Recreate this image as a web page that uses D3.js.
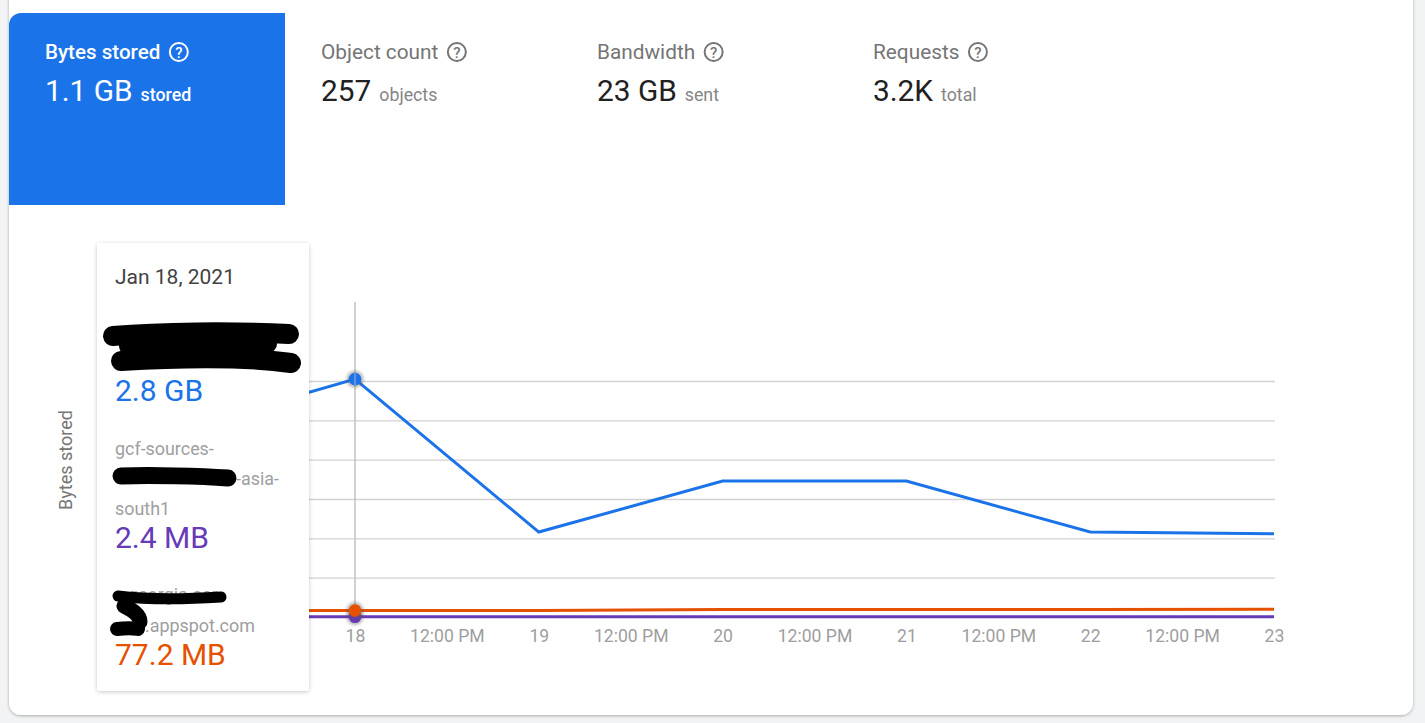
<!DOCTYPE html>
<html>
<head>
<meta charset="utf-8">
<script src="https://cdn.jsdelivr.net/npm/d3@7"></script>
<style>
  html, body { margin: 0; padding: 0; background: #f1f3f4; overflow: hidden; }
  svg { display: block; font-family: Roboto, sans-serif; }
</style>
</head>
<body>
<svg width="1425" height="723"></svg>
<script>
// values in GB
const days = ["2021-01-17", "2021-01-18", "2021-01-19", "2021-01-20", "2021-01-21", "2021-01-22", "2021-01-23"];
const blueValues = [2.18, 2.8, 1.0, 1.6, 1.6, 1.0, 0.98];
const orangeValues = [0.0765, 0.0772, 0.0772, 0.0875, 0.0875, 0.0875, 0.09];
const purpleValues = [0.0024, 0.0024, 0.0024, 0.0024, 0.0024, 0.0024, 0.0024];
const gridValues = [0, 0.463, 0.926, 1.389, 1.852, 2.315, 2.778];
const tickDates = ["2021-01-18T00:00Z", "2021-01-18T12:00Z", "2021-01-19T00:00Z", "2021-01-19T12:00Z", "2021-01-20T00:00Z", "2021-01-20T12:00Z", "2021-01-21T00:00Z", "2021-01-21T12:00Z", "2021-01-22T00:00Z", "2021-01-22T12:00Z", "2021-01-23T00:00Z"];
const tileTitles = ["Bytes stored", "Object count", "Bandwidth", "Requests"];
const tileValues = ["1.1 GB", "257", "23 GB", "3.2K"];
const tileUnits = ["stored", "objects", "sent", "total"];
const seriesColors = {blue: "#1a73e8", orange: "#e65100", purple: "#673ab7"};

let svg = d3.select("svg");

// card
let defs = svg.append("defs");
let shadow = defs.append("filter").attr("id", "cardShadow").attr("x", "-5%").attr("y", "-5%").attr("width", "110%").attr("height", "110%");
shadow.append("feDropShadow").attr("dx", 0).attr("dy", 1).attr("stdDeviation", 1.5).attr("flood-color", "#000").attr("flood-opacity", 0.3);
let tipShadow = defs.append("filter").attr("id", "tipShadow").attr("x", "-10%").attr("y", "-5%").attr("width", "120%").attr("height", "110%");
tipShadow.append("feDropShadow").attr("dx", 0).attr("dy", 1).attr("stdDeviation", 2).attr("flood-color", "#000").attr("flood-opacity", 0.22);
let halo = defs.append("filter").attr("id", "halo").attr("x", "-100%").attr("y", "-100%").attr("width", "300%").attr("height", "300%");
halo.append("feGaussianBlur").attr("stdDeviation", 1.8);

svg.append("rect").attr("x", 9).attr("y", -20).attr("width", 1404).attr("height", 735).attr("rx", 12)
  .attr("fill", "#fff").attr("filter", "url(#cardShadow)");

// metric tiles
svg.append("path").attr("d", "M9 205V25a12 12 0 0 1 12-12H285V205Z").attr("fill", "#1a73e8");

function drawTile(i) {
  let x = i === 0 ? 45 : 45 + i * 276;
  let active = i === 0;
  let g = svg.append("g").attr("transform", "translate(" + x + ",0)");
  let title = g.append("text").attr("y", 59).attr("font-size", active ? 20.6 : 20.8).attr("font-weight", active ? 500 : 400)
    .attr("fill", active ? "#fff" : "#757575").text(tileTitles[i]);
  let w = title.node().getComputedTextLength();
  g.append("circle").attr("cx", w + 18.5).attr("cy", 52).attr("r", 9).attr("fill", "none")
    .attr("stroke", active ? "#fff" : "#757575").attr("stroke-width", 2);
  g.append("text").attr("x", w + 18.5).attr("y", 57.5).attr("text-anchor", "middle").attr("font-size", 15).attr("font-weight", 500)
    .attr("fill", active ? "#fff" : "#757575").text("?");
  let val = g.append("text").attr("y", 101).attr("font-size", 29.8)
    .attr("fill", active ? "#fff" : "#212121").text(tileValues[i]);
  g.append("text").attr("x", val.node().getComputedTextLength() + 8).attr("y", 101).attr("font-size", 17.8)
    .attr("font-weight", active ? 500 : 400).attr("fill", active ? "#fff" : "#858585").text(tileUnits[i]);
}
tileTitles.forEach((d, i) => drawTile(i));

// chart
let parsed = days.map(d => new Date(d + "T00:00Z"));
let x = d3.scaleUtc().domain([parsed[1], parsed[6]]).range([355, 1274]);
let y = d3.scaleLinear().domain([0, 2.778]).range([617, 381]);

let grid = svg.append("g").attr("transform", "translate(171,0)")
  .call(d3.axisLeft(y).tickValues(gridValues.slice(1)).tickSize(-1104).tickFormat(""));
grid.select(".domain").remove();
grid.selectAll("line").attr("stroke", "#d2d2d2").attr("stroke-width", 1.4);

let xAxis = svg.append("g").attr("transform", "translate(0,617)")
  .call(d3.axisBottom(x).tickValues(tickDates.map(d => new Date(d))).tickSize(0).tickPadding(13)
    .tickFormat(d => d.getUTCHours() === 12 ? "12:00 PM" : d.getUTCDate()));
xAxis.select(".domain").remove();
xAxis.selectAll("text").attr("font-size", 17.6).attr("font-family", "Roboto, sans-serif").attr("fill", "#9e9e9e");

svg.append("text").attr("transform", "translate(72,460) rotate(-90)").attr("text-anchor", "middle")
  .attr("font-size", 18).attr("fill", "#757575").text("Bytes stored");

svg.append("line").attr("x1", x(parsed[1])).attr("x2", x(parsed[1])).attr("y1", 302).attr("y2", y(0))
  .attr("stroke", "#c0c0c0").attr("stroke-width", 1.5);

let line = d3.line().x((d, i) => x(parsed[i])).y(d => y(d));
[[purpleValues, seriesColors.purple], [orangeValues, seriesColors.orange], [blueValues, seriesColors.blue]].forEach(s => {
  svg.append("path").attr("d", line(s[0])).attr("fill", "none").attr("stroke", s[1]).attr("stroke-width", 3);
  let cx = x(parsed[1]), cy = y(s[0][1]);
  svg.append("circle").attr("cx", cx).attr("cy", cy).attr("r", 8.5).attr("fill", "#555").attr("opacity", 0.4).attr("filter", "url(#halo)");
  svg.append("circle").attr("cx", cx).attr("cy", cy).attr("r", 6.3).attr("fill", s[1]);
});
svg.append("line").attr("x1", 355).attr("x2", 355).attr("y1", 373).attr("y2", 385).attr("stroke", "#c0c0c0").attr("stroke-width", 1.2).attr("opacity", 0.75);

// tooltip
let tip = svg.append("g");
tip.append("rect").attr("x", 97).attr("y", 243).attr("width", 212).attr("height", 448).attr("rx", 3)
  .attr("fill", "#fff").attr("filter", "url(#tipShadow)");
function tipText(px, py, size, color, str) {
  tip.append("text").attr("x", px).attr("y", py).attr("font-size", size).attr("fill", color).text(str);
}
tipText(115, 284, 21, "#424242", "Jan 18, 2021");
tipText(115, 401, 30, seriesColors.blue, "2.8 GB");
tipText(115, 455, 17.9, "#9e9e9e", "gcf-sources-");
tipText(236, 485, 17.9, "#9e9e9e", "-asia-");
tipText(115, 515, 17.9, "#9e9e9e", "south1");
tipText(115, 548, 30, seriesColors.purple, "2.4 MB");
tipText(128, 601, 17.9, "#9e9e9e", "georgia-ser");
tipText(145, 632, 17.9, "#9e9e9e", ".appspot.com");
tipText(115, 665, 30, seriesColors.orange, "77.2 MB");

// redaction scribbles from the source screenshot
const scribbles = [
  {w: 20, d: "M113 336C160 332 230 331 289 334"},
  {w: 18, d: "M128 346C170 344 230 344 268 344"},
  {w: 20, d: "M121 361C170 358 240 356 291 363"},
  {w: 17, d: "M121 476C150 475 200 476 228 478"},
  {w: 11, d: "M118 596C150 600 190 599 221 597"},
  {w: 15, d: "M124 606C132 610 140 614 140 622"},
  {w: 14, d: "M117 629C125 628 133 628 138 629"}
];
svg.append("g").selectAll("path").data(scribbles).enter().append("path")
  .attr("d", d => d.d).attr("fill", "none").attr("stroke", "#000")
  .attr("stroke-width", d => d.w).attr("stroke-linecap", "round").attr("stroke-linejoin", "round");
</script>
</body>
</html>
